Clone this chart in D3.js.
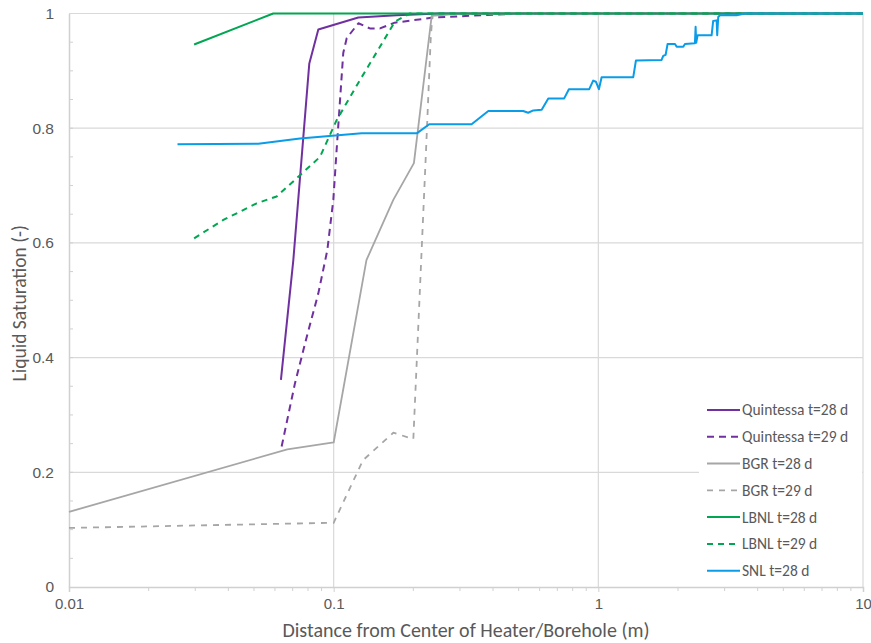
<!DOCTYPE html>
<html>
<head>
<meta charset="utf-8">
<script src="https://cdn.jsdelivr.net/npm/d3@7"></script>
<style>
  body { margin: 0; background: #fff; font-family: Calibri, Carlito, "Open Sans", sans-serif; }
  svg text { fill: #595959; }
</style>
</head>
<body>
<svg id="chart"></svg>
<script>
// Values: [distance (m), liquid saturation]
const quintessa28 = [[0.0632, 0.361], [0.0704, 0.570], [0.0809, 0.913], [0.0875, 0.972], [0.1239, 0.993], [0.1728, 0.997], [0.25, 1.0], [10, 1.0]];
const quintessa29 = [[0.0636, 0.245], [0.0714, 0.355], [0.0791, 0.436], [0.0875, 0.512], [0.0946, 0.587], [0.0997, 0.675], [0.1026, 0.762], [0.1087, 0.931], [0.112, 0.957], [0.124, 0.983], [0.137, 0.974], [0.1496, 0.974], [0.170, 0.984], [0.2387, 0.993], [0.5, 1.0], [10, 1.0]];
const bgr28 = [[0.01, 0.131], [0.0668, 0.240], [0.1, 0.252], [0.133, 0.570], [0.168, 0.675], [0.201, 0.739], [0.2346, 0.996], [0.3, 1.0], [10, 1.0]];
const bgr29 = [[0.01, 0.103], [0.1, 0.112], [0.129, 0.221], [0.168, 0.269], [0.2, 0.258], [0.215, 0.588], [0.2234, 0.762], [0.2325, 0.954], [0.236, 0.997], [0.3, 1.0], [10, 1.0]];
const lbnl28 = [[0.0297, 0.946], [0.0591, 1.0], [10, 1.0]];
const lbnl29 = [[0.0297, 0.608], [0.0383, 0.640], [0.0512, 0.669], [0.0609, 0.681], [0.0746, 0.718], [0.0888, 0.750], [0.1026, 0.814], [0.1257, 0.884], [0.1496, 0.942], [0.1704, 0.986], [0.194, 1.0], [10, 1.0]];
const snl28 = [[0.0257, 0.772], [0.0519, 0.773], [0.0746, 0.782], [0.1276, 0.791], [0.206, 0.791], [0.2297, 0.807], [0.332, 0.807], [0.384, 0.830], [0.520, 0.830], [0.543, 0.827], [0.568, 0.831], [0.611, 0.832], [0.647, 0.852], [0.743, 0.852], [0.774, 0.868], [0.924, 0.868], [0.956, 0.883], [0.979, 0.881], [1.005, 0.868], [1.029, 0.889], [1.355, 0.889], [1.387, 0.918], [1.734, 0.919], [1.759, 0.926], [1.796, 0.928], [1.827, 0.947], [1.948, 0.947], [1.977, 0.942], [2.094, 0.942], [2.125, 0.947], [2.317, 0.948], [2.331, 0.977], [2.343, 0.949], [2.372, 0.962], [2.679, 0.962], [2.716, 0.987], [2.799, 0.988], [2.813, 0.962], [2.838, 0.994], [2.881, 0.997], [3.331, 0.997], [3.58, 1.0], [10, 1.0]];

const seriesNames = ['Quintessa t=28 d', 'Quintessa t=29 d', 'BGR t=28 d', 'BGR t=29 d', 'LBNL t=28 d', 'LBNL t=29 d', 'SNL t=28 d'];
const xTicks = [0.01, 0.1, 1, 10];
const yTicks = [0, 0.2, 0.4, 0.6, 0.8, 1];

const series = [
  { name: seriesNames[0], data: quintessa28, color: '#7030A0', width: 2, dash: null },
  { name: seriesNames[1], data: quintessa29, color: '#7030A0', width: 2, dash: '7,5' },
  { name: seriesNames[2], data: bgr28, color: '#A6A6A6', width: 1.8, dash: null },
  { name: seriesNames[3], data: bgr29, color: '#A6A6A6', width: 1.8, dash: '6,6' },
  { name: seriesNames[4], data: lbnl28, color: '#00A651', width: 2, dash: null },
  { name: seriesNames[5], data: lbnl29, color: '#00A651', width: 2, dash: '6,5' },
  { name: seriesNames[6], data: snl28, color: '#0A9CE8', width: 2, dash: null }
];

const margin = { top: 13.5, right: 8, bottom: 56, left: 69 };
const width = 871 - margin.left - margin.right;
const height = 643 - margin.top - margin.bottom;

const svg = d3.select('#chart')
  .attr('width', 871)
  .attr('height', 643)
  .append('g')
  .attr('transform', `translate(${margin.left},${margin.top})`);

const x = d3.scaleLog().domain([0.01, 10]).range([0, width]);
const y = d3.scaleLinear().domain([0, 1]).range([height, 0]);

// gridlines
svg.append('g')
  .selectAll('line.hgrid')
  .data(yTicks.slice(1))
  .enter().append('line')
  .attr('x1', 0).attr('x2', width)
  .attr('y1', d => y(d)).attr('y2', d => y(d))
  .attr('stroke', '#D9D9D9').attr('stroke-width', 1.2);

svg.append('g')
  .selectAll('line.vgrid')
  .data(xTicks.slice(1))
  .enter().append('line')
  .attr('x1', d => x(d)).attr('x2', d => x(d))
  .attr('y1', 0).attr('y2', height)
  .attr('stroke', '#D9D9D9').attr('stroke-width', 1.2);

// X axis with minor ticks outside
const minorX = [];
[0.01, 0.1, 1].forEach(dec => { for (let k = 2; k <= 9; k++) minorX.push(dec * k); });

const xAxis = svg.append('g')
  .attr('transform', `translate(0, ${height})`)
  .call(d3.axisBottom(x).tickValues(xTicks).tickFormat(d => String(d)).tickSize(5).tickPadding(6));
xAxis.select('.domain').attr('stroke', '#D0D0D0').attr('stroke-width', 1.5);
xAxis.selectAll('.tick line').attr('stroke', '#D0D0D0');
xAxis.selectAll('.tick text').style('font-size', '15px');
xAxis.selectAll('line.minor')
  .data(minorX)
  .enter().append('line')
  .attr('x1', d => x(d)).attr('x2', d => x(d))
  .attr('y1', 0).attr('y2', 4)
  .attr('stroke', '#D0D0D0');

// Y axis with minor ticks inside
const minorY = d3.range(0.05, 1, 0.05);
const yAxis = svg.append('g')
  .call(d3.axisLeft(y).tickValues(yTicks).tickFormat(d => String(+d.toFixed(1))).tickSize(0).tickPadding(15));
yAxis.select('.domain').attr('stroke', '#D0D0D0').attr('stroke-width', 1.5);
yAxis.selectAll('.tick text').style('font-size', '15.5px');
yAxis.selectAll('line.minor')
  .data(minorY)
  .enter().append('line')
  .attr('x1', 0).attr('x2', 4)
  .attr('y1', d => y(d)).attr('y2', d => y(d))
  .attr('stroke', '#D0D0D0');

// series lines
const line = d3.line()
  .x(d => x(d[0]))
  .y(d => y(d[1]));

svg.selectAll('path.series')
  .data(series)
  .enter().append('path')
  .attr('class', 'series')
  .attr('d', d => line(d.data))
  .attr('fill', 'none')
  .attr('stroke', d => d.color)
  .attr('stroke-width', d => d.width)
  .attr('stroke-dasharray', d => d.dash)
  .attr('stroke-linejoin', 'round');

// legend
const legend = svg.append('g')
  .attr('transform', `translate(${width - 164}, ${y(0.335)})`);

legend.append('rect')
  .attr('x', 0).attr('y', 0)
  .attr('width', 163).attr('height', 190)
  .attr('fill', '#fff');

const item = legend.selectAll('g.item')
  .data(series)
  .enter().append('g')
  .attr('transform', (d, i) => `translate(0, ${15 + i * 26.8})`);

item.append('line')
  .attr('x1', 8).attr('x2', 41)
  .attr('y1', 0).attr('y2', 0)
  .attr('stroke', d => d.color)
  .attr('stroke-width', d => d.width)
  .attr('stroke-dasharray', d => d.dash);

item.append('text')
  .attr('x', 43)
  .attr('dy', '0.35em')
  .style('font-size', '15.5px')
  .text(d => d.name);

// axis titles
svg.append('text')
  .attr('x', width / 2)
  .attr('y', height + 50)
  .attr('text-anchor', 'middle')
  .style('font-size', '20px')
  .text('Distance from Center of Heater/Borehole (m)');

svg.append('text')
  .attr('transform', `translate(${-43}, ${y(0.5) + 3}) rotate(-90)`)
  .attr('text-anchor', 'middle')
  .style('font-size', '19.5px')
  .text('Liquid Saturation (-)');
</script>
</body>
</html>
